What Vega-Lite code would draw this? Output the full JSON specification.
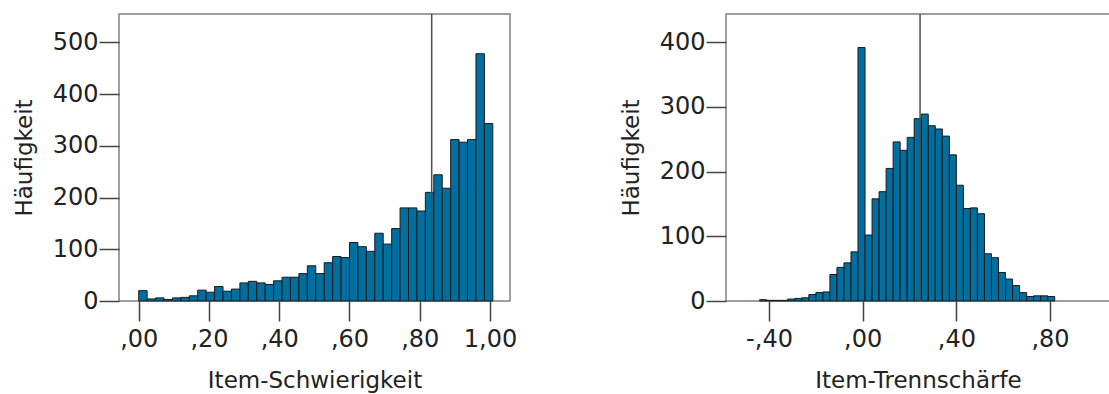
{
  "$schema": "https://vega.github.io/schema/vega-lite/v6.json",
  "padding": {"left": 12, "top": 12, "right": 0, "bottom": 0},
  "background": "white",
  "spacing": 101,
  "config": {
    "view": {"stroke": "#808080", "strokeWidth": 1.5},
    "axis": {
      "labelFont": "DejaVu Sans", "labelFontSize": 24, "labelColor": "#222222",
      "titleFont": "DejaVu Sans", "titleFontSize": 23, "titleFontWeight": "normal", "titleColor": "#222222",
      "tickColor": "#444444", "tickSize": 20, "tickWidth": 1.5,
      "domain": false, "grid": false
    },
    "axisX": {"labelPadding": 6, "titlePadding": 18},
    "axisY": {"labelPadding": 1, "titlePadding": 16}
  },
  "datasets": {
    "schwierigkeit": [
      {"s": 0.000, "e": 0.024, "n": 20}, {"s": 0.024, "e": 0.048, "n": 4}, {"s": 0.048, "e": 0.072, "n": 6},
      {"s": 0.072, "e": 0.096, "n": 3}, {"s": 0.096, "e": 0.120, "n": 6}, {"s": 0.120, "e": 0.144, "n": 7},
      {"s": 0.144, "e": 0.168, "n": 10}, {"s": 0.168, "e": 0.192, "n": 21}, {"s": 0.192, "e": 0.216, "n": 17},
      {"s": 0.216, "e": 0.240, "n": 28}, {"s": 0.240, "e": 0.264, "n": 19}, {"s": 0.264, "e": 0.288, "n": 23},
      {"s": 0.288, "e": 0.312, "n": 35}, {"s": 0.312, "e": 0.336, "n": 38}, {"s": 0.336, "e": 0.360, "n": 35},
      {"s": 0.360, "e": 0.384, "n": 32}, {"s": 0.384, "e": 0.408, "n": 39}, {"s": 0.408, "e": 0.432, "n": 46},
      {"s": 0.432, "e": 0.456, "n": 46}, {"s": 0.456, "e": 0.480, "n": 53}, {"s": 0.480, "e": 0.504, "n": 68},
      {"s": 0.504, "e": 0.528, "n": 53}, {"s": 0.528, "e": 0.552, "n": 74}, {"s": 0.552, "e": 0.576, "n": 86},
      {"s": 0.576, "e": 0.600, "n": 84}, {"s": 0.600, "e": 0.624, "n": 113}, {"s": 0.624, "e": 0.648, "n": 105},
      {"s": 0.648, "e": 0.672, "n": 96}, {"s": 0.672, "e": 0.696, "n": 131}, {"s": 0.696, "e": 0.720, "n": 110},
      {"s": 0.720, "e": 0.744, "n": 140}, {"s": 0.744, "e": 0.768, "n": 180}, {"s": 0.768, "e": 0.792, "n": 180},
      {"s": 0.792, "e": 0.816, "n": 174}, {"s": 0.816, "e": 0.840, "n": 210}, {"s": 0.840, "e": 0.864, "n": 244},
      {"s": 0.864, "e": 0.888, "n": 218}, {"s": 0.888, "e": 0.912, "n": 312}, {"s": 0.912, "e": 0.936, "n": 307},
      {"s": 0.936, "e": 0.960, "n": 312}, {"s": 0.960, "e": 0.984, "n": 478}, {"s": 0.984, "e": 1.008, "n": 343}
    ],
    "trennschaerfe": [
      {"s": -0.44, "e": -0.41, "n": 2}, {"s": -0.41, "e": -0.38, "n": 1}, {"s": -0.38, "e": -0.35, "n": 1},
      {"s": -0.35, "e": -0.32, "n": 1}, {"s": -0.32, "e": -0.29, "n": 3}, {"s": -0.29, "e": -0.26, "n": 4},
      {"s": -0.26, "e": -0.23, "n": 5}, {"s": -0.23, "e": -0.20, "n": 10}, {"s": -0.20, "e": -0.17, "n": 13},
      {"s": -0.17, "e": -0.14, "n": 14}, {"s": -0.14, "e": -0.11, "n": 41}, {"s": -0.11, "e": -0.08, "n": 52},
      {"s": -0.08, "e": -0.05, "n": 59}, {"s": -0.05, "e": -0.02, "n": 76}, {"s": -0.02, "e": 0.01, "n": 392},
      {"s": 0.01, "e": 0.04, "n": 102}, {"s": 0.04, "e": 0.07, "n": 158}, {"s": 0.07, "e": 0.10, "n": 169},
      {"s": 0.10, "e": 0.13, "n": 205}, {"s": 0.13, "e": 0.16, "n": 246}, {"s": 0.16, "e": 0.19, "n": 233},
      {"s": 0.19, "e": 0.22, "n": 253}, {"s": 0.22, "e": 0.25, "n": 282}, {"s": 0.25, "e": 0.28, "n": 289},
      {"s": 0.28, "e": 0.31, "n": 271}, {"s": 0.31, "e": 0.34, "n": 266}, {"s": 0.34, "e": 0.37, "n": 255},
      {"s": 0.37, "e": 0.40, "n": 226}, {"s": 0.40, "e": 0.43, "n": 179}, {"s": 0.43, "e": 0.46, "n": 143},
      {"s": 0.46, "e": 0.49, "n": 144}, {"s": 0.49, "e": 0.52, "n": 135}, {"s": 0.52, "e": 0.55, "n": 73},
      {"s": 0.55, "e": 0.58, "n": 67}, {"s": 0.58, "e": 0.61, "n": 44}, {"s": 0.61, "e": 0.64, "n": 34},
      {"s": 0.64, "e": 0.67, "n": 24}, {"s": 0.67, "e": 0.70, "n": 13}, {"s": 0.70, "e": 0.73, "n": 7},
      {"s": 0.73, "e": 0.76, "n": 8}, {"s": 0.76, "e": 0.79, "n": 8}, {"s": 0.79, "e": 0.82, "n": 7}
    ]
  },
  "hconcat": [
    {
      "width": 391,
      "height": 287,
      "layer": [
        {
          "data": {"name": "schwierigkeit"},
          "mark": {"type": "bar", "fill": "#006e9f", "stroke": "#1a1a1a", "strokeWidth": 1},
          "encoding": {
            "x": {"field": "s", "type": "quantitative",
                  "scale": {"domain": [-0.0561, 1.0569], "nice": false, "zero": false},
                  "axis": {"title": "Item-Schwierigkeit", "values": [0, 0.2, 0.4, 0.6, 0.8, 1.0],
                           "labelExpr": "replace(replace(replace(format(datum.value, '.2f'), '\u2212', '-'), '0.', ','), '.', ',')"}},
            "x2": {"field": "e"},
            "y": {"field": "n", "type": "quantitative",
                  "scale": {"domain": [0, 554.8], "nice": false},
                  "axis": {"title": "Häufigkeit", "values": [0, 100, 200, 300, 400, 500]}},
            "y2": {"datum": 0}
          }
        },
        {
          "data": {"values": [{"mean": 0.834}]},
          "mark": {"type": "rule", "color": "#4d4d4d", "strokeWidth": 1.5},
          "encoding": {"x": {"field": "mean", "type": "quantitative"}}
        }
      ]
    },
    {
      "width": 384,
      "height": 287,
      "layer": [
        {
          "data": {"name": "trennschaerfe"},
          "mark": {"type": "bar", "fill": "#006e9f", "stroke": "#1a1a1a", "strokeWidth": 1},
          "encoding": {
            "x": {"field": "s", "type": "quantitative",
                  "scale": {"domain": [-0.5837, 1.056], "nice": false, "zero": false},
                  "axis": {"title": "Item-Trennschärfe", "values": [-0.4, 0, 0.4, 0.8],
                           "labelExpr": "replace(replace(replace(format(datum.value, '.2f'), '\u2212', '-'), '0.', ','), '.', ',')"}},
            "x2": {"field": "e"},
            "y": {"field": "n", "type": "quantitative",
                  "scale": {"domain": [0, 443.8], "nice": false},
                  "axis": {"title": "Häufigkeit", "values": [0, 100, 200, 300, 400]}},
            "y2": {"datum": 0}
          }
        },
        {
          "data": {"values": [{"mean": 0.245}]},
          "mark": {"type": "rule", "color": "#4d4d4d", "strokeWidth": 1.5},
          "encoding": {"x": {"field": "mean", "type": "quantitative"}}
        }
      ]
    }
  ]
}
